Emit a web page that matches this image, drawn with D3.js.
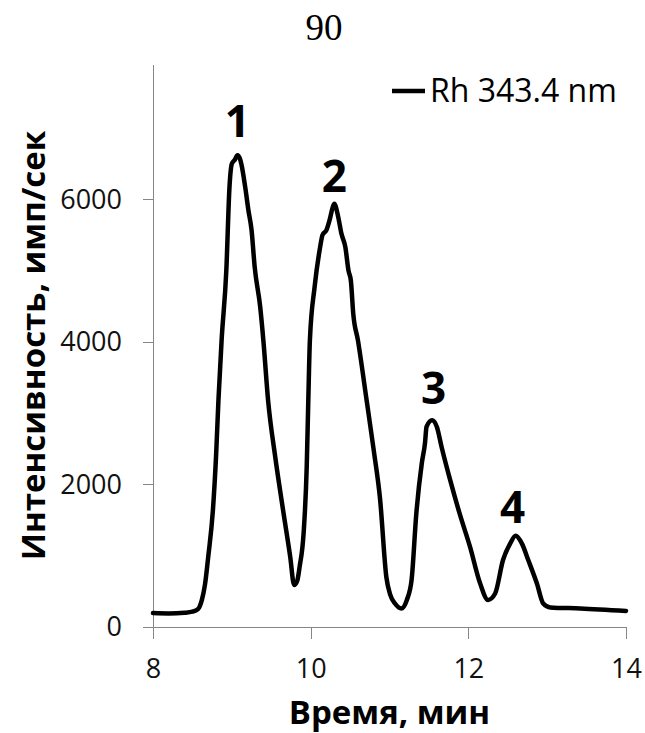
<!DOCTYPE html>
<html lang="ru">
<head>
<meta charset="UTF-8">
<title>Rh 343.4 nm</title>
<script src="https://d3js.org/d3.v7.min.js"></script>
<style>
    body { margin: 0; background: #fff; }
    svg { display: block; font-family: 'Open Sans', sans-serif; }
    .axis path, .axis line { stroke: #868686; stroke-width: 1; shape-rendering: crispEdges; }
    .axis text { font-family: 'Open Sans', sans-serif; font-size: 27px; fill: #111; }
    .line { fill: none; stroke: #000; stroke-width: 4.5; stroke-linejoin: round; stroke-linecap: round; }
    .title { font-weight: bold; font-size: 33px; fill: #000; }
    .peak { font-weight: bold; font-size: 44px; fill: #000; }
</style>
</head>
<body>
<svg width="645" height="733"></svg>
<script>
// retention time, min
const times = [8.00, 8.20, 8.40, 8.50, 8.57, 8.62, 8.66, 8.70, 8.76, 8.80, 8.83, 8.87, 8.93, 8.97, 9.00, 9.04, 9.07, 9.10,
    9.12, 9.17, 9.21, 9.25, 9.29, 9.36, 9.40, 9.46, 9.55, 9.65, 9.74, 9.79, 9.83, 9.86, 9.91, 9.95, 9.97, 9.99,
    10.05, 10.12, 10.15, 10.20, 10.24, 10.28, 10.30, 10.35, 10.39, 10.44, 10.48, 10.51, 10.54, 10.60, 10.71,
    10.80, 10.88, 10.96, 11.01, 11.07, 11.15, 11.22, 11.28, 11.34, 11.41, 11.45, 11.47, 11.54, 11.60, 11.66,
    11.77, 11.89, 12.02, 12.15, 12.25, 12.34, 12.44, 12.53, 12.60, 12.68, 12.76, 12.87, 12.95, 13.04, 13.42, 14.00];
// intensity, counts/s
const intensity = [195, 190, 200, 215, 250, 380, 600, 980, 1640, 2400, 3180, 4020, 5000, 6170, 6500, 6560, 6620, 6580,
    6500, 6170, 5850, 5570, 5050, 4490, 4020, 3180, 2390, 1640, 990, 590, 650, 845, 1310, 2250, 3180, 4020,
    4770, 5330, 5500, 5570, 5710, 5890, 5940, 5750, 5520, 5330, 5000, 4860, 4400, 4020, 3180,
    2480, 1800, 700, 450, 330, 260, 380, 660, 1590, 2300, 2580, 2810, 2900, 2810, 2530,
    2060, 1590, 1130, 610, 380, 470, 940, 1170, 1280, 1170, 940, 610, 330, 275, 260, 225];

const peakLabels = ["1", "2", "3", "4"];
const peakTimes = [9.07, 10.30, 11.56, 12.56];
const peakLabelY = [6870, 6100, 3125, 1460];

const xTicks = [8, 10, 12, 14];
const yTicks = [0, 2000, 4000, 6000];

const seriesName = "Rh 343.4 nm";
const xTitle = "Время, мин";
const yTitle = "Интенсивность, имп/сек";
const pageNumber = "90";

const data = times.map((t, i) => ({t: t, v: intensity[i]}));

const svg = d3.select("svg"),
    margin = {top: 64, right: 19, bottom: 106, left: 153},
    width = +svg.attr("width") - margin.left - margin.right,
    height = +svg.attr("height") - margin.top - margin.bottom;

const x = d3.scaleLinear().domain([8, 14]).range([margin.left, margin.left + width]);
const y = d3.scaleLinear().domain([0, 7900]).range([margin.top + height, margin.top]);

// page number
svg.append("text")
    .attr("x", 324)
    .attr("y", 40)
    .attr("text-anchor", "middle")
    .style("font-family", "'Liberation Serif', serif")
    .style("font-size", "37px")
    .text(pageNumber);

// axes
svg.append("g")
    .attr("class", "axis")
    .attr("transform", "translate(0," + (margin.top + height) + ")")
    .call(d3.axisBottom(x).tickValues(xTicks).tickFormat(d3.format("d"))
        .tickSize(12).tickPadding(20).tickSizeOuter(0))
    .selectAll("text").attr("dy", "0.71em");

svg.append("g")
    .attr("class", "axis")
    .attr("transform", "translate(" + margin.left + ",0)")
    .call(d3.axisLeft(y).tickValues(yTicks).tickFormat(d3.format("d"))
        .tickSize(10).tickPadding(21).tickSizeOuter(0));

// axis titles
svg.append("text")
    .attr("class", "title")
    .attr("x", margin.left + width / 2)
    .attr("y", 724)
    .attr("text-anchor", "middle")
    .text(xTitle);

svg.append("text")
    .attr("class", "title")
    .attr("transform", "translate(45," + (margin.top + height / 2) + ") rotate(-90)")
    .attr("text-anchor", "middle")
    .text(yTitle);

// chromatogram
const line = d3.line()
    .x(d => x(d.t))
    .y(d => y(d.v))
    .curve(d3.curveMonotoneX);

svg.append("path")
    .datum(data)
    .attr("class", "line")
    .attr("d", line);

// peak numbers
svg.selectAll(".peak")
    .data(peakLabels)
    .enter().append("text")
    .attr("class", "peak")
    .attr("x", (d, i) => x(peakTimes[i]))
    .attr("y", (d, i) => y(peakLabelY[i]))
    .attr("text-anchor", "middle")
    .text(d => d);

// legend
const legend = svg.append("g").attr("transform", "translate(392,91)");
legend.append("line")
    .attr("x1", 0).attr("x2", 33)
    .attr("stroke", "#000")
    .attr("stroke-width", 4.5);
legend.append("text")
    .attr("x", 38)
    .attr("y", 11)
    .style("font-size", "32px")
    .text(seriesName);
</script>
</body>
</html>
